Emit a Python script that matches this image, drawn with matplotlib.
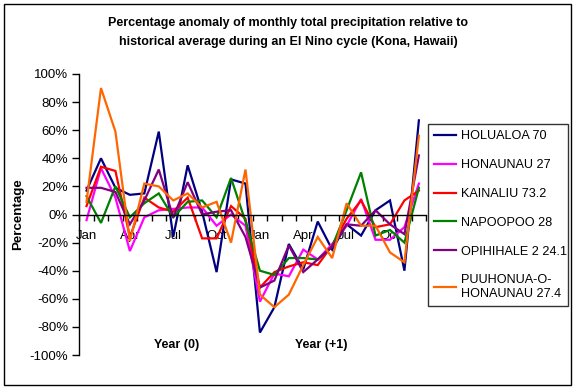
import matplotlib
matplotlib.use("Agg")
import matplotlib.pyplot as plt
import matplotlib.patches as mpatches
from matplotlib.ticker import FuncFormatter, FixedLocator
import numpy as np

plt.rcParams['font.family'] = ['Liberation Sans', 'DejaVu Sans']
plt.rcParams['axes.unicode_minus'] = False

months = list(range(24))
tick_labels = ["Jan", "Apr", "Jul", "Oct", "Jan", "Apr", "Jul", "Oct"]

holualoa = [17, 40, 19, 14, 15, 59, -16, 35, 2, -41, 25, 22,
            -84, -66, -21, -39, -5, -25, -7, -15, 3, 10, -40, 67]
honaunau = [-4, 33, 12, -26, -2, 3, 4, 5, 5, -8, 0, -8,
            -62, -42, -44, -25, -32, -21, -8, 11, -18, -18, -9, 22]
kainaliu = [6, 34, 31, -16, 12, 5, 2, 12, -17, -17, 6, -3,
            -52, -41, -37, -34, -36, -22, -3, 10, -9, -7, 10, 17]
napoopoo = [13, -6, 20, -2, 8, 15, -2, 9, 10, -2, 26, -5,
            -40, -43, -31, -31, -32, -23, 3, 30, -15, -11, -20, 19]
opihihale = [19, 19, 16, -7, 10, 32, -2, 23, 0, 2, 3, -16,
             -52, -47, -22, -41, -32, -23, -7, -8, 3, -7, -14, 42]
puuhonua = [9, 90, 59, -19, 22, 20, 10, 15, 5, 9, -20, 32,
            -57, -66, -57, -36, -16, -31, 8, -8, -8, -27, -34, 56]

series = [
    ("HOLUALOA 70", holualoa, "#000080"),
    ("HONAUNAU 27", honaunau, "#FF00FF"),
    ("KAINALIU 73.2", kainaliu, "#FF0000"),
    ("NAPOOPOO 28", napoopoo, "#008000"),
    ("OPIHIHALE 2 24.1", opihihale, "#800080"),
    ("PUUHONUA-O-\nHONAUNAU 27.4", puuhonua, "#FF6600"),
]

W, H = 577, 390
fig = plt.figure(figsize=(W / 100, H / 100), dpi=100)

def fx(px):
    return px / W

def fy(py):
    return 1 - py / H

ax = fig.add_axes([fx(79.3), fy(355), fx(426.1) - fx(79.3), fy(74) - fy(355)])

for name, vals, col in series:
    ax.plot(months, vals, color=col, lw=1.6, label=name, solid_joinstyle='miter')

ax.set_xlim(-0.5, 23.5)
ax.set_ylim(-100, 100)

for s in ['top', 'right']:
    ax.spines[s].set_visible(False)
ax.spines['bottom'].set_position(('data', 0))
ax.spines['bottom'].set_linewidth(1.0)
ax.spines['left'].set_linewidth(1.0)

ax.xaxis.set_major_locator(FixedLocator(list(range(0, 24, 3))))
ax.set_xticklabels(tick_labels)
ax.xaxis.set_minor_locator(FixedLocator(list(np.arange(-0.5, 24, 1.0))))
ax.tick_params(axis='x', which='major', length=0, pad=11, labelsize=9.5)
ax.tick_params(axis='x', which='minor', length=4, width=1, direction='out')

ax.set_yticks(np.arange(-100, 101, 20))
ax.yaxis.set_major_formatter(FuncFormatter(lambda v, p: f"{int(round(v))}%"))
ax.tick_params(axis='y', length=5, width=1, direction='out', pad=3, labelsize=9.5)

fig.text(0.5, fy(32.5), "Percentage anomaly of monthly total precipitation relative to\n"
         "historical average during an El Nino cycle (Kona, Hawaii)",
         ha='center', va='center', fontsize=9.0, fontweight='bold', linespacing=1.8)

fig.text(fx(18), fy(214), "Percentage", rotation=90, ha='center', va='center',
         fontsize=9.6, fontweight='bold')
fig.text(fx(177), fy(345), "Year (0)", ha='center', va='center', fontsize=9.0, fontweight='bold')
fig.text(fx(321), fy(345), "Year (+1)", ha='center', va='center', fontsize=9.0, fontweight='bold')

leg = fig.legend(loc='upper left',
                 bbox_to_anchor=(fx(428), fy(306), fx(568) - fx(428), fy(124) - fy(306)),
                 mode='expand', frameon=True, fancybox=False, fontsize=9.1,
                 handlelength=1.75, handletextpad=0.35, labelspacing=1.33, borderpad=0.5,
                 borderaxespad=0)
leg.get_frame().set_edgecolor('black')
leg.get_frame().set_linewidth(1.0)

border = mpatches.Rectangle((fx(4), fy(385)), fx(571) - fx(4), fy(4) - fy(385),
                            transform=fig.transFigure, fill=False, edgecolor='black', lw=1.0)
fig.patches.append(border)

fig.savefig("out.png", dpi=100)
